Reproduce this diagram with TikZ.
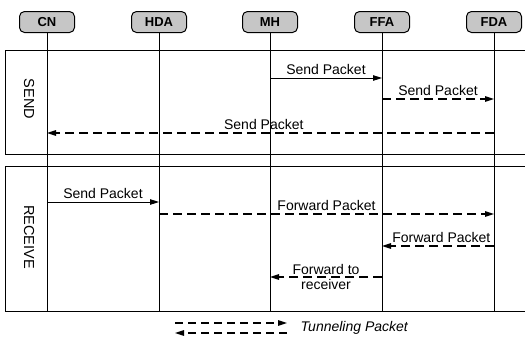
\documentclass[tikz,border=0pt]{standalone}
\usepackage{fontspec}
\setmainfont{Liberation Sans}
\usetikzlibrary{arrows.meta}
\begin{document}
\begin{tikzpicture}[x=1pt,y=-1pt,
  hdr/.style={draw,line width=1pt,rounded corners=5pt,fill=gray!45,minimum width=55pt,minimum height=21pt,inner sep=0pt,font=\fontsize{13}{15}\selectfont\bfseries},
  life/.style={line width=0.8pt},
  panel/.style={line width=1pt},
  msg/.style={line width=0.9pt,-{Triangle[length=9pt,width=5.5pt]}},
  tun/.style={msg,line width=1.4pt,dash pattern=on 9pt off 5pt},
  lbl/.style={font=\fontsize{14}{16}\selectfont,inner sep=2.5pt},
  ]
\useasboundingbox (0,0) rectangle (525,338);
% header nodes
\node[hdr] (cn)  at (47,22)  {CN};
\node[hdr] (hda) at (159,22) {HDA};
\node[hdr] (mh)  at (270,22) {MH};
\node[hdr] (ffa) at (382,22) {FFA};
\node[hdr] (fda) at (494,22) {FDA};
% panels
\draw[panel] (525,50) -- (5,50) -- (5,154) -- (525,154);
\draw[panel] (525,166) -- (5,166) -- (5,311) -- (525,311);
\node[lbl,rotate=-90,font=\fontsize{14.5}{16}\selectfont] (send) at (29,99) {SEND};
\node[lbl,rotate=-90,font=\fontsize{14.5}{16}\selectfont] (recv) at (29,237) {RECEIVE};
% lifelines
\coordinate (bot) at (0,311);
\foreach \n in {cn,hda,mh,ffa,fda} \draw[life] (\n.south) -- (\n |- bot);
% rows
\coordinate (r1) at (0,78);
\coordinate (r2) at (0,99);
\coordinate (r3) at (0,133);
\coordinate (r4) at (0,202);
\coordinate (r5) at (0,214);
\coordinate (r6) at (0,246);
\coordinate (r7) at (0,277);
% send phase
\draw[msg] (mh |- r1) -- node[lbl,above] {Send Packet} (ffa |- r1);
\draw[tun] (ffa |- r2) -- node[lbl,above] {Send Packet} (fda |- r2);
\draw[tun] (fda |- r3) -- node[lbl,above,pos=0.515] {Send Packet} (cn |- r3);
% receive phase
\draw[msg] (cn |- r4) -- node[lbl,above] {Send Packet} (hda |- r4);
\draw[tun] (hda |- r5) -- node[lbl,above] {Forward Packet} (fda |- r5);
\draw[tun] (fda |- r6) -- node[lbl,above,pos=0.47] {Forward Packet} (ffa |- r6);
\draw[tun] (ffa |- r7) -- node[lbl,above,inner sep=1.5pt] {Forward to} node[lbl,below,inner sep=1.5pt] {receiver} (mh |- r7);
% legend
\coordinate (la) at (175,323);
\coordinate (lb) at (287,323);
\coordinate (lc) at (175,333);
\coordinate (ld) at (287,333);
\draw[tun,dash pattern=on 8pt off 5pt] (la) -- (lb);
\draw[tun,dash pattern=on 8pt off 5pt] (ld) -- (lc);
\node[lbl,anchor=west,font=\fontsize{14}{16}\selectfont\itshape] (leg) at (298,328) {Tunneling Packet};
\end{tikzpicture}
\end{document}
